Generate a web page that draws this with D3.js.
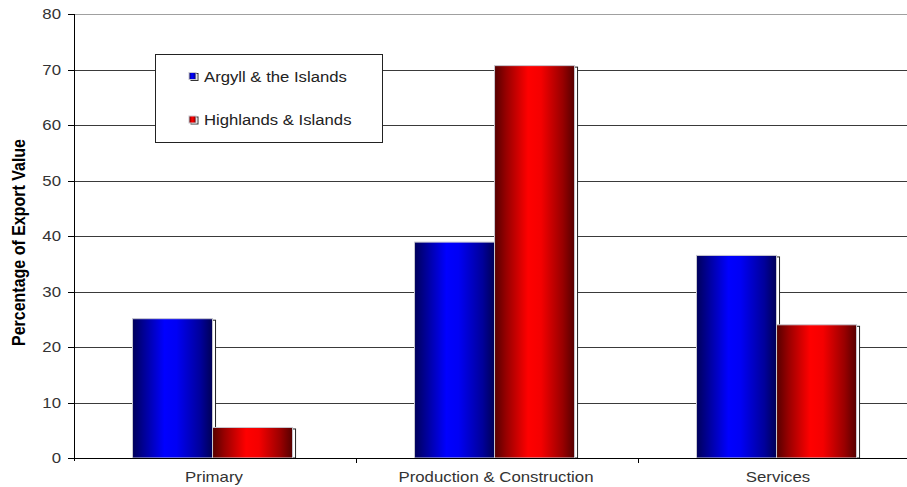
<!DOCTYPE html>
<html>
<head>
<meta charset="utf-8">
<script src="https://cdn.jsdelivr.net/npm/d3@7/dist/d3.min.js"></script>
<style>
  html, body { margin: 0; padding: 0; background: #ffffff; }
  svg { display: block; }
  text { font-family: "Liberation Sans", Arial, sans-serif; }
</style>
</head>
<body>
<svg id="chart" width="907" height="487"></svg>
<script>
const categories = ["Primary", "Production & Construction", "Services"];
const seriesNames = ["Argyll & the Islands", "Highlands & Islands"];
const argyllValues = [25.1, 38.9, 36.5];
const highlandsValues = [5.5, 70.7, 24.0];
const yTicks = [0, 10, 20, 30, 40, 50, 60, 70, 80];
const yTitle = "Percentage of Export Value";

const values = [argyllValues, highlandsValues];
const W = 907, H = 487;
const svg = d3.select("#chart");
const sx = 1.2; // horizontal text stretch seen in the reference

const y = d3.scaleLinear().domain([0, 80]).range([458, 14]);
const x = d3.scaleBand().domain(categories).range([74, 920]).padding(0);
const bw = x.bandwidth();
const xs = d3.scaleBand().domain(seriesNames).range([bw * 0.2075, bw * 0.775]).padding(0);

// gradients
const defs = svg.append("defs");
function grad(id, stops) {
  const g = defs.append("linearGradient").attr("id", id)
    .attr("x1", "0%").attr("x2", "100%").attr("y1", "0%").attr("y2", "0%");
  stops.forEach(s => g.append("stop").attr("offset", s[0]).attr("stop-color", s[1]));
}
grad("gBlue", [["0%", "#00005a"], ["15%", "#000099"], ["40%", "#0000ff"], ["55%", "#0000f5"], ["85%", "#00009a"], ["100%", "#000055"]]);
grad("gRed", [["0%", "#550000"], ["15%", "#990000"], ["42%", "#ff0000"], ["58%", "#f50000"], ["85%", "#990000"], ["100%", "#550000"]]);
const fills = ["url(#gBlue)", "url(#gRed)"];

// gridlines
svg.append("g").selectAll("line").data(yTicks).join("line")
  .attr("x1", 74).attr("x2", W)
  .attr("y1", d => Math.round(y(d)) + 0.5).attr("y2", d => Math.round(y(d)) + 0.5)
  .attr("stroke", d => d === 80 ? "#a0a0a0" : "#3a3a3a")
  .attr("stroke-width", 1);

// bars
const bars = svg.append("g");
categories.forEach((c, i) => {
  seriesNames.forEach((s, j) => {
    const v = values[j][i];
    const bx = x(c) + xs(s);
    const by = y(v);
    const w = xs.bandwidth();
    const h = y(0) - by;
    bars.append("rect")
      .attr("x", bx + 3).attr("y", by + 1.5)
      .attr("width", w).attr("height", h - 1.5)
      .attr("fill", "#ffffff").attr("stroke", "#222").attr("stroke-width", 1);
    bars.append("rect")
      .attr("x", bx).attr("y", by)
      .attr("width", w).attr("height", h)
      .attr("fill", fills[j]).attr("stroke", "#c8c8d0").attr("stroke-width", 1);
  });
});

// axes
const axisColor = "#000";
svg.append("line").attr("x1", 74.5).attr("x2", 74.5).attr("y1", 14).attr("y2", 461)
  .attr("stroke", axisColor);
svg.append("line").attr("x1", 74).attr("x2", W).attr("y1", 458.5).attr("y2", 458.5)
  .attr("stroke", axisColor);
svg.append("g").selectAll("line").data(yTicks).join("line")
  .attr("x1", 68).attr("x2", 74)
  .attr("y1", d => Math.round(y(d)) + 0.5).attr("y2", d => Math.round(y(d)) + 0.5)
  .attr("stroke", axisColor);
svg.append("g").selectAll("line").data(categories.slice(1)).join("line")
  .attr("x1", d => Math.round(x(d)) + 0.5).attr("x2", d => Math.round(x(d)) + 0.5)
  .attr("y1", 458).attr("y2", 463)
  .attr("stroke", axisColor);

// y tick labels
svg.append("g").selectAll("text").data(yTicks).join("text")
  .attr("transform", d => `translate(61,${y(d) + 5}) scale(${sx},1)`)
  .attr("text-anchor", "end")
  .attr("font-size", 14).attr("fill", "#333")
  .text(d => d);

// x labels
svg.append("g").selectAll("text").data(categories).join("text")
  .attr("transform", d => `translate(${x(d) + bw / 2 - 1},482) scale(${sx},1)`)
  .attr("text-anchor", "middle")
  .attr("font-size", 14).attr("fill", "#333")
  .text(d => d);

// y title
svg.append("text")
  .attr("transform", `translate(25,242.5) rotate(-90) scale(1,${sx})`)
  .attr("text-anchor", "middle")
  .attr("font-size", 16).attr("font-weight", "bold").attr("fill", "#000")
  .text(yTitle);

// legend
const lg = svg.append("g");
lg.append("rect").attr("x", 155.5).attr("y", 54.5).attr("width", 227).attr("height", 88)
  .attr("fill", "#fff").attr("stroke", "#222").attr("stroke-width", 1);
const legendRows = [81.5, 125];
seriesNames.forEach((s, j) => {
  const by = legendRows[j];
  lg.append("rect").attr("x", 191).attr("y", by - 8).attr("width", 7).attr("height", 7)
    .attr("fill", "#fff").attr("stroke", "#333");
  lg.append("rect").attr("x", 189).attr("y", by - 9).attr("width", 7).attr("height", 7)
    .attr("fill", fills[j]).attr("stroke", "#c8c8d0");
  lg.append("text")
    .attr("transform", `translate(204,${by}) scale(${sx * 0.96},1)`)
    .attr("font-size", 14.5).attr("fill", "#222")
    .text(s);
});
</script>
</body>
</html>
